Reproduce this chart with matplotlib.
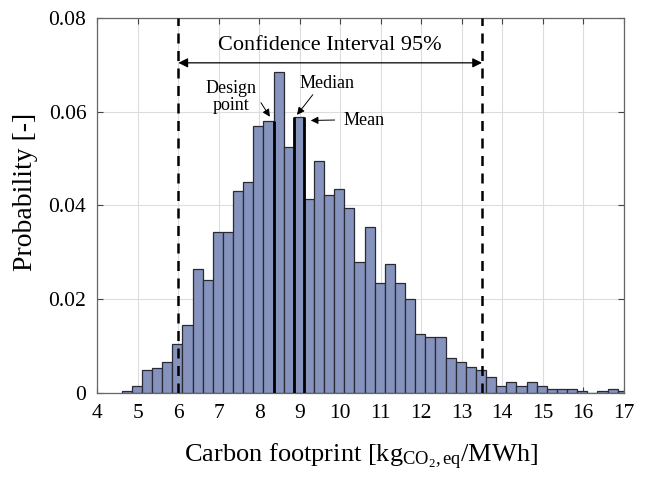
import numpy as np
import matplotlib
matplotlib.use("Agg")
import matplotlib.pyplot as plt

plt.rcParams["font.family"] = ["Liberation Serif", "DejaVu Serif"]
plt.rcParams["mathtext.fontset"] = "custom"
plt.rcParams["mathtext.rm"] = "Liberation Serif"
plt.rcParams["mathtext.it"] = "Liberation Serif:italic"

# histogram: bins of 0.25 starting at 4.6
bin_start = 4.6
bin_width = 0.25
probability = [0.0004, 0.0014, 0.0048, 0.0054, 0.0065, 0.0105, 0.0144, 0.0264, 0.0241, 0.0344,
               0.0344, 0.0430, 0.0449, 0.0570, 0.0580, 0.0685, 0.0525, 0.0589, 0.0414, 0.0494,
               0.0421, 0.0434, 0.0394, 0.0280, 0.0354, 0.0235, 0.0274, 0.0235, 0.0200, 0.0125,
               0.0120, 0.0120, 0.0075, 0.0065, 0.0055, 0.0048, 0.0033, 0.0014, 0.0023, 0.0014,
               0.0023, 0.0014, 0.0009, 0.0009, 0.0009, 0.0004, 0.0000, 0.0004, 0.0009, 0.0004]

ci_low, ci_high = 6.0, 13.5
design_point = 8.35
median = 8.85
mean = 9.10
design_top, median_top, mean_top = 0.058, 0.0589, 0.0589

edges = bin_start + bin_width * np.arange(len(probability))

fig = plt.figure(figsize=(6.45, 4.82), dpi=100)
ax = fig.add_axes([0.151, 0.185, 0.816, 0.778])

ax.bar(edges, probability, width=bin_width, align="edge",
       color="#8593bd", edgecolor="#2a2a35", linewidth=0.9, zorder=2)

ax.vlines([design_point], 0, design_top, color="black", lw=2.0, zorder=3)
ax.vlines([median], 0, median_top, color="black", lw=2.0, zorder=3)
ax.vlines([mean], 0, mean_top, color="black", lw=2.0, zorder=3)

ax.vlines([ci_low, ci_high], 0, 0.08, color="black", lw=1.8,
          linestyles=(0, (4, 3)), zorder=4)

ax.annotate("", xy=(ci_low, 0.0704), xytext=(ci_high, 0.0704),
            arrowprops=dict(arrowstyle="<|-|>", color="black", lw=0.9,
                            mutation_scale=14, shrinkA=0, shrinkB=0), zorder=5)
ax.text((ci_low + ci_high) / 2, 0.0742, "Confidence Interval 95%",
        ha="center", va="center", fontsize=16)

arrow = dict(arrowstyle="-|>", color="black", lw=0.7, mutation_scale=11,
             shrinkA=0, shrinkB=0)
ax.text(7.3, 0.0631, "Design\npoint", ha="center", va="center",
        fontsize=13, linespacing=1.05)
ax.annotate("", xy=(8.26, 0.0589), xytext=(8.04, 0.0619), arrowprops=arrow)
ax.text(9.67, 0.0659, "Median", ha="center", va="center", fontsize=13)
ax.annotate("", xy=(8.93, 0.0593), xytext=(9.32, 0.0636), arrowprops=arrow)
ax.text(10.58, 0.0582, "Mean", ha="center", va="center", fontsize=13)
ax.annotate("", xy=(9.27, 0.0581), xytext=(9.86, 0.0582), arrowprops=arrow)

ax.set_xlim(4, 17)
ax.set_ylim(0, 0.08)
ax.set_xticks(np.arange(4, 18, 1))
ax.set_yticks([0, 0.02, 0.04, 0.06, 0.08])
ax.set_yticklabels(["0", "0.02", "0.04", "0.06", "0.08"])
ax.grid(True, color="#dcdcdc", lw=0.8, zorder=0)
ax.set_axisbelow(True)
ax.tick_params(direction="in", length=4, width=0.8, color="#444444",
               labelsize=15.5, top=True, right=True, pad=8)
for sp in ax.spines.values():
    sp.set_color("#666666")
    sp.set_linewidth(0.9)

ax.set_ylabel("Probability [-]", fontsize=20)
ax.yaxis.set_label_coords(-0.113, 0.535)
ax.set_xlabel(r"Carbon footprint [kg$_{\mathrm{CO}_{2}\mathrm{,eq}}$/MWh]",
              fontsize=19, labelpad=14)

fig.savefig("out.png", dpi=100)
